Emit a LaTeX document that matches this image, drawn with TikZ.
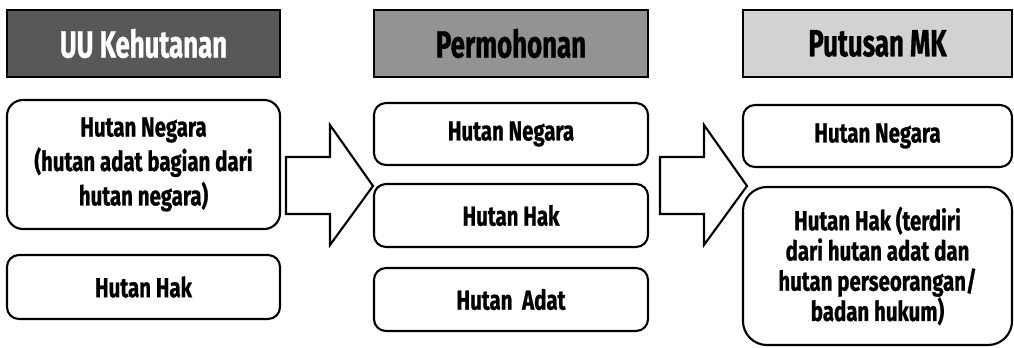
\documentclass[tikz,border=0pt]{standalone}
\usepackage{fontspec}
\setmainfont[FakeStretch=0.745, FakeBold=0.8]{Fira Sans}
\newfontfamily\headfont[FakeStretch=0.68, FakeBold=0.8]{Fira Sans}
\usepackage{tikz}
\usetikzlibrary{calc}
\definecolor{HeadDark}{HTML}{58585A}
\definecolor{HeadMid}{HTML}{939396}
\definecolor{HeadLight}{HTML}{D1D2D4}
\tikzset{
    head/.style = {draw, line width=1.6pt, minimum height=1.675cm, inner sep=0pt,
        font=\headfont\bfseries\fontsize{27}{30}\selectfont},
    item/.style = {draw, line width=1.5pt, rounded corners=0.3cm, inner sep=0pt,
        align=center, font=\bfseries\fontsize{19.5}{24.5}\selectfont},
    blockarrow/.style = {draw, line width=1.5pt, fill=white, line join=miter}
}

\begin{document}
\begin{tikzpicture}[x=0.025cm, y=-0.025cm]
    \useasboundingbox (0,0) rectangle (1014,348);
    %%Headers
    \node[head, fill=HeadDark, text=white, minimum width=6.825cm] (uu) at (143.5,43.5) {UU Kehutanan};
    \node[head, fill=HeadMid, minimum width=6.85cm] (mohon) at (511,43.5) {Permohonan};
    \node[head, fill=HeadLight, minimum width=6.725cm] (mk) at (877.5,43.5) {Putusan MK};
    %%UU Kehutanan
    \node[item, minimum width=6.825cm, minimum height=3.225cm, rounded corners=0.4cm] (uuNegara) at (143.5,164.5)
        {Hutan Negara\\(hutan adat bagian dari\\hutan negara)};
    \node[item, minimum width=6.825cm, minimum height=1.6cm] (uuHak) at (143.5,287) {Hutan Hak};
    %%Permohonan
    \node[item, minimum width=6.85cm, minimum height=1.55cm] (mohonNegara) at (511,134) {Hutan Negara};
    \node[item, minimum width=6.85cm, minimum height=1.575cm] (mohonHak) at (511,215.5) {Hutan Hak};
    \node[item, minimum width=6.85cm, minimum height=1.575cm] (mohonAdat) at (511,299.5) {Hutan\ \ Adat};
    %%Putusan MK
    \node[item, minimum width=6.725cm, minimum height=1.55cm] (mkNegara) at (877.5,136) {Hutan Negara};
    \node[item, minimum width=6.725cm, minimum height=3.95cm, rounded corners=0.6cm,
        font=\bfseries\fontsize{19.5}{21.5}\selectfont] (mkHak) at (877.5,266)
        {Hutan Hak (terdiri\\dari hutan adat dan\\hutan perseorangan/\\badan hukum)};
    %%Arrows
    \foreach \s in {0,374}{
        \draw[blockarrow] (286+\s,157) -- (330+\s,157) -- (330+\s,125) -- (373+\s,186)
            -- (330+\s,245) -- (330+\s,214) -- (286+\s,214) -- cycle;
    }
\end{tikzpicture}
\end{document}
